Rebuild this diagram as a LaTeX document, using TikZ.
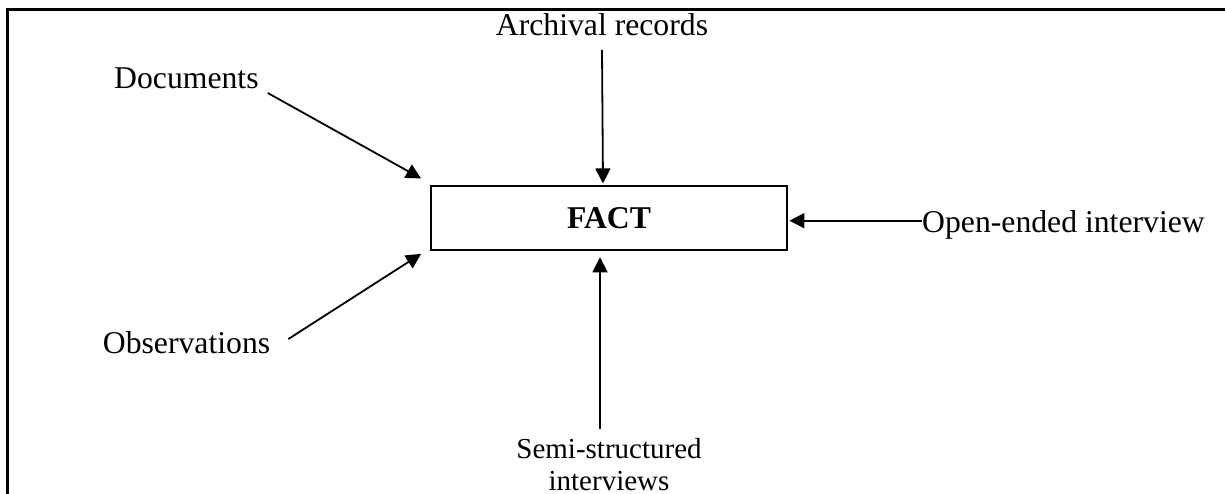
\documentclass[tikz,border=0pt]{standalone}
\usepackage{fontspec}
\setmainfont{Liberation Serif}
\usetikzlibrary{arrows.meta}

\tikzset{
  label text/.style={inner sep=0pt, font=\fontsize{31.7}{38}\selectfont},
  small text/.style={inner sep=0pt, align=center, font=\fontsize{29}{32}\selectfont},
  factbox/.style={draw, line width=1.8pt, inner sep=0pt,
    minimum width=356pt, minimum height=64pt,
    font=\fontsize{31.7}{38}\selectfont\bfseries},
  arr/.style={line width=1.8pt, -{Triangle[length=15pt,width=15pt]}},
}

\begin{document}
\begin{tikzpicture}[x=1pt,y=-1pt]
  \useasboundingbox (0,0) rectangle (1225,494);

  % outer frame (runs off the right and bottom edges)
  \draw[line width=3pt] (7.5,494) -- (7.5,9.5) -- (1225,9.5);

  % central box
  \node[factbox] (fact) at (609,218.35) {FACT};

  % sources
  \node[label text, anchor=base]      (arch) at (602,36)    {Archival records};
  \node[label text, anchor=base west] (docs) at (114,89)    {Documents};
  \node[label text, anchor=base west] (obs)  at (102.7,353) {Observations};
  \node[label text, anchor=base west] (open) at (922,233)   {Open-ended interview};
  \node[small text, anchor=base]      (semi) at (609,490)   {Semi-structured\\interviews};

  % free ends of the connectors
  \coordinate (archS) at (602,50);
  \coordinate (docsS) at ([xshift=9pt,yshift=-4pt]docs.base east);
  \coordinate (obsS)  at ([xshift=18pt,yshift=14pt]obs.base east);
  \coordinate (openS) at ([yshift=12.3pt]open.base west);
  \coordinate (semiS) at (600,429);

  % connectors into the box
  \draw[arr] (archS) -- ([xshift=-6pt,yshift=2pt]fact.north);
  \draw[arr] (docsS) -- ([xshift=-9pt,yshift=7pt]fact.north west);
  \draw[arr] (obsS)  -- ([xshift=-9pt,yshift=-2.6pt]fact.south west);
  \draw[arr] (openS) -- ([xshift=1.5pt]openS -| fact.east);
  \draw[arr] (semiS) -- ([xshift=-9pt,yshift=-6pt]fact.south);
\end{tikzpicture}
\end{document}
